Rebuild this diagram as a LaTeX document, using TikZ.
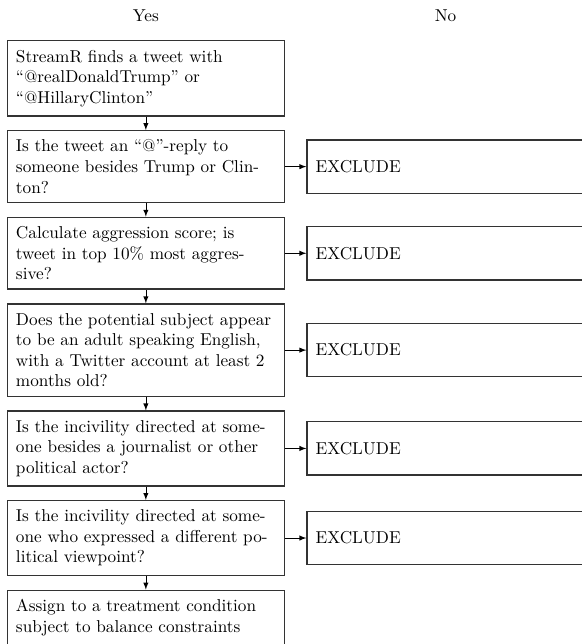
\documentclass[tikz,border=0pt]{standalone}
\usetikzlibrary{positioning}
\begin{document}
\begin{tikzpicture}[
	stepBox/.style={draw=black!80, thick, rectangle, text width=151pt, inner xsep=5pt, inner ysep=5.3pt, align=left},
	excludeBox/.style={stepBox, minimum height=31pt},
	node distance=7.8pt
	]
	
	\useasboundingbox (-3.9pt,23.3pt) rectangle (333.9pt,-351.1pt);
	
	%Yes side
	\node (findTweet) at (0,0) [stepBox, anchor=north west]{StreamR finds a tweet with “@realDonaldTrump” or “@HillaryClinton”};
	\node (replyCheck) [stepBox, below=of findTweet]{Is the tweet an “@”-reply to someone besides Trump or Clinton?};
	\node (aggressionCheck) [stepBox, below=of replyCheck]{Calculate aggression score; is tweet in top 10\% most aggressive?};
	\node (subjectCheck) [stepBox, below=of aggressionCheck]{Does the potential subject appear to be an adult speaking English, with a Twitter account at least 2 months old?};
	\node (targetCheck) [stepBox, below=of subjectCheck]{Is the incivility directed at someone besides a journalist or other political actor?};
	\node (viewpointCheck) [stepBox, below=of targetCheck]{Is the incivility directed at someone who expressed a different political viewpoint?};
	\node (assignCondition) [stepBox, below=of viewpointCheck]{Assign to a treatment condition subject to balance constraints};
	
	%No side
	\node (replyExclude) [excludeBox, right=12.4pt of replyCheck]{EXCLUDE};
	\node (aggressionExclude) [excludeBox, right=12.4pt of aggressionCheck]{EXCLUDE};
	\node (subjectExclude) [excludeBox, right=12.4pt of subjectCheck]{EXCLUDE};
	\node (targetExclude) [excludeBox, right=12.4pt of targetCheck]{EXCLUDE};
	\node (viewpointExclude) [excludeBox, right=12.4pt of viewpointCheck]{EXCLUDE};
	
	%Arrows
	\foreach \from/\to in {findTweet/replyCheck, replyCheck/aggressionCheck, aggressionCheck/subjectCheck, subjectCheck/targetCheck, targetCheck/viewpointCheck, viewpointCheck/assignCondition}
	\draw[-latex] (\from) -- (\to);
	\foreach \from/\to in {replyCheck/replyExclude, aggressionCheck/aggressionExclude, subjectCheck/subjectExclude, targetCheck/targetExclude, viewpointCheck/viewpointExclude}
	\draw[-latex] (\from) -- (\to);
	
	%Column labels
	\node (yesLabel) [above=10.5pt of findTweet, inner sep=0pt]{Yes};
	\node (noLabel) at (yesLabel -| replyExclude) [inner sep=0pt]{No};
	
\end{tikzpicture}
\end{document}
